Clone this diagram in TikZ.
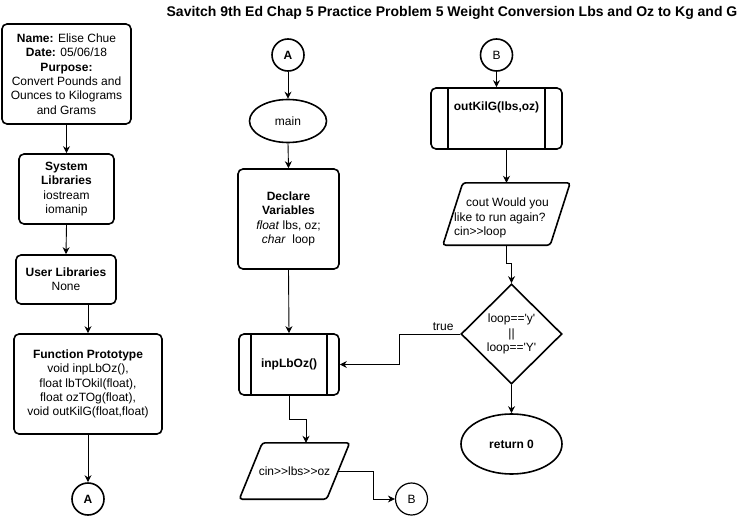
\documentclass[tikz,border=0pt]{standalone}
\usepackage{fontspec}
\setmainfont{Liberation Sans}[Ligatures=TeXOff]
\usetikzlibrary{shapes.geometric,arrows.meta,calc}
\begin{document}
\begin{tikzpicture}[x=1pt,y=-1pt,
  every node/.style={font=\fontsize{12}{14.3}\selectfont, align=center, text=black},
  shp/.style={draw, line width=1.6pt},
  rbox/.style={shp, rounded corners=5pt, inner sep=0pt},
  conn/.style={shp, circle, inner sep=0pt, minimum size=32pt},
  oval/.style={shp, ellipse, inner sep=0pt},
  ghost/.style={inner sep=0pt},
  arr/.style={line width=0.9pt, -{Stealth[length=7pt,width=7pt]}}
]
\useasboundingbox (0,0) rectangle (752,516);
\fill[white] (0,0) rectangle (752,516);

\node[font=\fontsize{14}{16}\selectfont\bfseries] (title) at (452,13)
  {Savitch 9th Ed Chap 5 Practice Problem 5 Weight Conversion Lbs and Oz to Kg and G};

% left column
\node[rbox, minimum width=129pt, minimum height=100pt] (name) at (66.5,74)
  {\textbf{Name:} Elise Chue\\\textbf{Date:} 05/06/18\\\textbf{Purpose:}\\Convert Pounds and\\Ounces to Kilograms\\and Grams};
\node[rbox, minimum width=95pt, minimum height=70pt] (sys) at (66.5,189)
  {\textbf{System}\\\textbf{Libraries}\\iostream\\iomanip};
\node[rbox, minimum width=100pt, minimum height=49pt] (user) at (66,279.5)
  {\textbf{User Libraries}\\None};
\node[rbox, minimum width=148pt, minimum height=100pt] (func) at (88,384)
  {\textbf{Function Prototype}\\void inpLbOz(),\\float lbTOkil(float),\\float ozTOg(float),\\void outKilG(float,float)};
\node[conn, font=\fontsize{12}{14}\selectfont\bfseries] (A1) at (88,499) {A};

% middle column
\node[conn, font=\fontsize{12}{14}\selectfont\bfseries] (A2) at (288,55) {A};
\node[oval, minimum width=77pt, minimum height=43pt] (main) at (288,121) {main};
\node[rbox, minimum width=101pt, minimum height=100pt] (dec) at (288.5,219)
  {\textbf{Declare}\\\textbf{Variables}\\\textit{float} lbs, oz;\\\textit{char}\ \ loop};
\node[rbox, minimum width=100pt, minimum height=61pt, font=\fontsize{12}{14}\selectfont\bfseries] (inp) at (289,364.5) {inpLbOz()};
\draw[line width=1.6pt] ([xshift=13pt]inp.north west) -- ([xshift=13pt]inp.south west)
  ([xshift=-13pt]inp.north east) -- ([xshift=-13pt]inp.south east);
\node[ghost, minimum width=110pt, minimum height=56pt] (cin) at (294.5,471) {cin>>lbs>>oz};
\draw[shp, rounded corners=3pt] ([xshift=23pt]cin.north west) -- (cin.north east)
  -- ([xshift=-23pt]cin.south east) -- (cin.south west) -- cycle;
\node[conn, line width=1.2pt] (B2) at (411.5,499) {B};

% right column
\node[conn, line width=1.6pt] (B1) at (496.5,55) {B};
\node[rbox, minimum width=131pt, minimum height=61pt] (out) at (496.5,118.5) {};
\node[font=\fontsize{12}{14}\selectfont\bfseries] (outt) at (496.5,107) {outKilG(lbs,oz)};
\draw[line width=1.6pt] ([xshift=18pt]out.north west) -- ([xshift=18pt]out.south west)
  ([xshift=-18pt]out.north east) -- ([xshift=-18pt]out.south east);
\node[ghost, minimum width=127pt, minimum height=62pt] (ask) at (506.5,214) {};
\draw[shp, rounded corners=3pt] ([xshift=20pt]ask.north west) -- (ask.north east)
  -- ([xshift=-20pt]ask.south east) -- (ask.south west) -- cycle;
\node[anchor=west, align=left, inner sep=0pt] (askt) at (454,218)
  {\hspace*{12pt}cout Would you\\like to run again?\\cin>>loop};
\node[shp, diamond, inner sep=0pt, minimum width=101pt, minimum height=100pt] (cond) at (511.5,334)
  {loop=='y'\\||\\loop=='Y'};
\node[oval, minimum width=101pt, minimum height=60pt, font=\fontsize{12}{14}\selectfont\bfseries] (ret) at (511.5,444) {return 0};

% connectors
\draw[arr] (name.south) -- (sys.north);
\draw[arr] (sys.south) -- (user.north);
\draw[arr] (user.south -| func.north) -- (func.north);
\draw[arr] (func.south) -- (A1.north);
\draw[arr] (A2.south) -- (main.north);
\draw[arr] (main.south) -- (dec.north);
\draw[arr] (dec.south) -- (inp.north);
\draw[arr] (inp.south) -- ++(0,23.5) -| ($(cin.north)+(11.5,0)$);
\draw[arr] ($(cin.east)+(-11.5,0)$) -- ++(35,0) |- (B2.west);
\draw[arr] (B1.south) -- (out.north);
\draw[arr] (out.south -| ask.north) -- (ask.north);
\draw[arr] (ask.south) -- ++(0,18) -| (cond.north);
\draw[arr] (cond.south) -- (ret.north);
\draw[arr] (cond.west) -- node[pos=0.28, above, inner sep=3pt] {true} ++(-61,0) |- (inp.east);
\end{tikzpicture}
\end{document}
